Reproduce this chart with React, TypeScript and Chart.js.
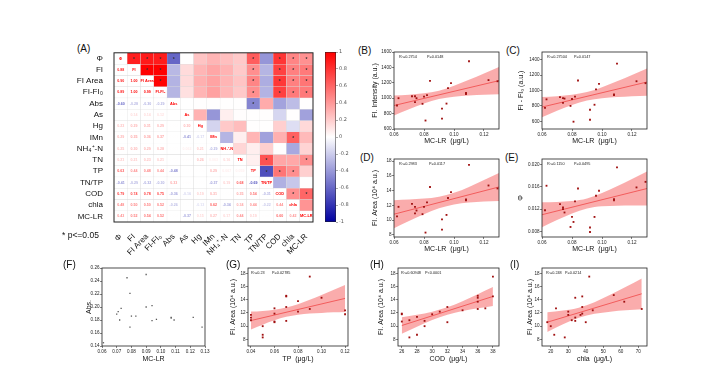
import React, { useEffect, useRef } from 'react';
import { Chart, registerables } from 'chart.js';
Chart.register(...registerables);

const FONT = "'Liberation Sans', Arial, Helvetica, sans-serif";

// ---------------- (A) correlation matrix ----------------
const variables = ['Φ', 'FI', 'FI Area', 'FI-FI₀', 'Abs', 'As', 'Hg', 'IMn', 'NH₄⁺-N', 'TN', 'TP', 'TN/TP', 'COD', 'chla', 'MC-LR'];
const corrLower: number[][] = [
  [],
  [0.88],
  [0.9, 1.0],
  [0.89, 1.0, 0.99],
  [-0.6, -0.28, -0.3, -0.29],
  [0.002, 0.14, 0.14, 0.12, 0.001],
  [0.23, 0.29, 0.31, 0.29, 0.004, 0.3],
  [0.29, 0.35, 0.36, 0.37, 0.003, -0.41, -0.17],
  [0.25, 0.3, 0.29, 0.28, 0.005, 0.062, 0.21, -0.29],
  [0.21, 0.21, 0.23, 0.21, 0.004, 0.006, 0.26, 0.063, 0.16],
  [0.63, 0.44, 0.48, 0.44, -0.48, 0.005, 0.004, 0.29, 0.067, 0.059],
  [-0.41, -0.29, -0.32, -0.3, 0.33, 0.006, 0.005, -0.37, 0.19, 0.68, -0.69],
  [0.79, 0.74, 0.78, 0.75, -0.36, -0.16, 0.19, 0.31, 0.004, 0.35, 0.54, -0.31],
  [0.48, 0.5, 0.5, 0.52, -0.26, 0.005, -0.13, 0.62, -0.34, 0.34, 0.44, -0.22, 0.44],
  [0.43, 0.52, 0.54, 0.52, 0.004, -0.37, 0.15, 0.27, 0.17, 0.44, 0.19, 0.005, 0.6, 0.42],
];
const sigLevel = 0.43;
const colorbarStops = [-1, 0, 1];
const colorbarTicks = [-1, -0.8, -0.6, -0.4, -0.2, 0, 0.2, 0.4, 0.6, 0.8, 1];

// ---------------- scatter data ----------------
const mcLR = [0.062, 0.063, 0.072, 0.074, 0.074, 0.075, 0.079, 0.08, 0.082, 0.081, 0.084, 0.092, 0.092, 0.095, 0.096, 0.098, 0.108, 0.108, 0.11, 0.123, 0.129];
const fiIntensity = [905, 1000, 1025, 1025, 950, 1000, 927, 1020, 1040, 710, 1225, 865, 735, 930, 1130, 1195, 1070, 1055, 1480, 1235, 1220];
const fiMinusFi0 = [775, 885, 915, 900, 840, 895, 800, 890, 920, 595, 1130, 750, 620, 815, 1015, 1085, 950, 940, 1350, 1120, 1095];
const fiAreaD = [10.5, 11.8, 12.2, 11.8, 10.9, 11.3, 10.8, 11.8, 12.4, 8.3, 14.5, 10.1, 8.7, 10.7, 13.0, 13.8, 12.8, 12.7, 17.5, 14.7, 14.3];
const phiE = [0.0118, 0.0162, 0.0129, 0.0123, 0.012, 0.0114, 0.0088, 0.0106, 0.0134, 0.0097, 0.0157, 0.0079, 0.0087, 0.0106, 0.0144, 0.0153, 0.0138, 0.0136, 0.0195, 0.0159, 0.0169];

const mcLR_F = [0.061, 0.07, 0.071, 0.072, 0.073, 0.077, 0.079, 0.079, 0.08, 0.083, 0.09, 0.09, 0.094, 0.094, 0.097, 0.107, 0.107, 0.109, 0.122, 0.128];
const absF = [0.145, 0.189, 0.193, 0.18, 0.198, 0.245, 0.221, 0.169, 0.186, 0.186, 0.25, 0.2, 0.179, 0.202, 0.181, 0.184, 0.183, 0.18, 0.184, 0.169];

const tpG = [0.04, 0.04, 0.04, 0.05, 0.05, 0.05, 0.06, 0.06, 0.06, 0.06, 0.07, 0.07, 0.07, 0.07, 0.08, 0.08, 0.09, 0.09, 0.1, 0.12, 0.12];
const fiAreaG = [11.7, 11.3, 10.9, 10.0, 8.7, 8.3, 12.7, 11.9, 10.7, 10.6, 14.6, 14.5, 12.9, 10.8, 13.8, 12.2, 17.5, 12.6, 14.3, 12.4, 11.8];
const codH = [26, 26, 26, 27, 27, 28, 28, 29, 29, 30, 31, 32, 32, 34, 36, 36, 36, 36, 37, 38, 38];
const fiAreaH = [11.9, 11.8, 10.7, 10.9, 8.3, 11.4, 8.7, 10.8, 10.0, 11.8, 12.2, 12.9, 10.6, 12.4, 14.6, 14.3, 13.7, 12.6, 12.7, 17.5, 14.5];
const chlaI = [18, 20, 22, 23, 28, 30, 30, 32, 34, 34, 34, 37, 38, 38, 38, 40, 42, 44, 56, 62, 72];
const fiAreaI = [10.6, 10.0, 8.7, 12.7, 8.3, 12.2, 11.7, 10.9, 14.3, 11.3, 10.8, 11.7, 12.9, 14.5, 11.9, 10.6, 17.5, 12.4, 14.7, 13.7, 12.6];

// fitted lines and 95% confidence bands
const bandX_MC = [0.06, 0.07, 0.08, 0.09, 0.1, 0.11, 0.12, 0.13];
const fitX_MC = [0.06, 0.13];
const fitB = [905, 1228];
const bandUpB = [1036, 1046, 1063, 1098, 1161, 1238, 1320, 1405];
const bandLoB = [774, 856, 931, 988, 1019, 1034, 1044, 1051];
const fitC = [785, 1110];
const bandUpC = [916, 926, 944, 979, 1042, 1119, 1202, 1287];
const bandLoC = [654, 736, 812, 869, 900, 915, 926, 933];
const fitD = [10.8, 14.5];
const bandUpD = [12.7, 12.79, 12.92, 13.18, 13.7, 14.5, 15.43, 16.4];
const bandLoD = [8.9, 9.88, 10.8, 11.6, 12.12, 12.38, 12.52, 12.6];
const fitE = [0.011, 0.0157];
const bandUpE = [0.01325, 0.01329, 0.01344, 0.01391, 0.01488, 0.0161, 0.01741, 0.01875];
const bandLoE = [0.00875, 0.01005, 0.01124, 0.01211, 0.0125, 0.01262, 0.01265, 0.01265];
const bandX_G = [0.04, 0.05, 0.06, 0.07, 0.08, 0.09, 0.1, 0.11, 0.12];
const fitX_G = [0.04, 0.12];
const fitG = [10.85, 14.2];
const bandUpG = [12.2, 12.31, 12.49, 12.81, 13.33, 13.99, 14.71, 15.47, 16.25];
const bandLoG = [9.5, 10.23, 10.89, 11.41, 11.73, 11.91, 12.01, 12.09, 12.15];
const bandX_H = [26, 28, 30, 32, 34, 36, 38];
const fitX_H = [26, 38];
const fitH = [10.1, 14.5];
const bandUpH = [11.35, 11.73, 12.2, 12.86, 13.78, 14.84, 15.93];
const bandLoH = [8.85, 9.93, 10.94, 11.74, 12.28, 12.7, 13.07];
const bandX_I = [18, 27, 36, 45, 54, 63, 72];
const fitX_I = [18, 72];
const fitI = [10.6, 14.9];
const bandUpI = [12.1, 12.36, 12.79, 13.63, 14.75, 15.97, 17.23];
const bandLoI = [9.1, 10.28, 11.27, 11.87, 12.19, 12.39, 12.57];

// axis ticks
const mcTicks = [0.06, 0.08, 0.1, 0.12];
const fiTicks = [600, 800, 1000, 1200, 1400, 1600];
const fi0Ticks = [600, 800, 1000, 1200, 1400];
const areaTicks = [8, 10, 12, 14, 16, 18];
const phiTicks = [0.008, 0.012, 0.016, 0.02];
const mcTicksF = [0.06, 0.07, 0.08, 0.09, 0.1, 0.11, 0.12, 0.13];
const absTicks = [0.14, 0.16, 0.18, 0.2, 0.22, 0.24, 0.26];
const tpTicks = [0.04, 0.06, 0.08, 0.1, 0.12];
const codTicks = [26, 28, 30, 32, 34, 36, 38];
const chlaTicks = [20, 30, 40, 50, 60, 70];

// ---------------- helpers ----------------
function corr(i: number, j: number) {
  if (i === j) return 1;
  return i > j ? corrLower[i][j] : corrLower[j][i];
}
function cmap(v: number) {
  if (v >= 0) {
    const g = Math.round(255 * (1 - v));
    return `rgb(255,${g},${g})`;
  }
  const t = -v;
  const c = Math.round(255 * (1 - t));
  const b = Math.round(255 - 95 * t);
  return `rgb(${c},${c},${b})`;
}
function fmtCorr(v: number) {
  const a = Math.abs(v);
  return a < 0.1 && a > 0 ? v.toFixed(3) : v.toFixed(2);
}
const pts = (xs: number[], ys: number[]) => xs.map((x, i) => ({ x, y: ys[i] }));

function ChartCanvas({ left, top, width, height, make }: any) {
  const ref = useRef<HTMLCanvasElement>(null);
  useEffect(() => {
    const chart = new Chart(ref.current as HTMLCanvasElement, make());
    return () => chart.destroy();
  }, []);
  return (
    <canvas
      ref={ref}
      width={width}
      height={height}
      style={{ position: 'absolute', left, top, width, height }}
    />
  );
}

// ---------------- heatmap ----------------
const HM = { l: 114, t: 52, r: 313, b: 222, yw: 59, xh: 40, pt: 7, pr: 6 };

function heatmapConfig(): any {
  const n = variables.length;
  const datasets = variables.map((name, i) => ({
    label: name,
    data: variables.map(() => 1),
    backgroundColor: variables.map((_, j) => (j > i ? cmap(corr(i, j)) : '#ffffff')),
    borderColor: 'rgba(215,215,215,0.8)',
    borderWidth: 0.4,
    borderSkipped: false,
    barPercentage: 1,
    categoryPercentage: 1,
  }));
  const textPlugin = {
    id: 'cellText',
    afterDatasetsDraw(chart: any) {
      const ctx = chart.ctx;
      ctx.save();
      ctx.textAlign = 'center';
      ctx.textBaseline = 'middle';
      for (let i = 0; i < n; i++) {
        const meta = chart.getDatasetMeta(i);
        for (let j = 0; j < n; j++) {
          const el = meta.data[j];
          const cx = el.x;
          const cy = (el.y + el.base) / 2;
          if (j < i) {
            const v = corr(i, j);
            ctx.fillStyle = cmap(v);
            ctx.font = `bold 3.6px ${FONT}`;
            ctx.fillText(fmtCorr(v), cx, cy);
          } else if (j === i) {
            ctx.fillStyle = '#ff0000';
            ctx.font = `bold 3.9px ${FONT}`;
            ctx.fillText(variables[i], cx, cy);
          } else if (Math.abs(corr(i, j)) >= sigLevel) {
            ctx.fillStyle = '#333333';
            ctx.font = `bold 5px ${FONT}`;
            ctx.fillText('*', cx, cy + 1);
          }
        }
      }
      const a = chart.chartArea;
      ctx.strokeStyle = '#222';
      ctx.lineWidth = 1;
      ctx.strokeRect(a.left, a.top, a.right - a.left, a.bottom - a.top);
      ctx.restore();
    },
  };
  return {
    type: 'bar',
    data: { labels: variables, datasets },
    options: {
      responsive: false,
      animation: false,
      devicePixelRatio: 1,
      layout: { padding: { top: HM.pt, right: HM.pr, left: 0, bottom: 0 } },
      plugins: { legend: { display: false }, tooltip: { enabled: false } },
      scales: {
        x: {
          stacked: true,
          grid: { display: false },
          border: { display: false },
          afterFit: (ax: any) => { ax.height = HM.xh; },
          ticks: { font: { size: 8, family: FONT }, color: '#111', minRotation: 45, maxRotation: 45, autoSkip: false, padding: 2 },
        },
        y: {
          stacked: true,
          min: 0,
          max: n,
          reverse: true,
          grid: { display: false },
          border: { display: false },
          afterFit: (ax: any) => { ax.width = HM.yw; },
          afterBuildTicks: (ax: any) => { ax.ticks = variables.map((_, i) => ({ value: i + 0.5 })); },
          ticks: {
            font: { size: 8, family: FONT },
            color: '#111',
            padding: 3,
            autoSkip: false,
            callback: (_v: any, idx: number) => variables[idx],
          },
        },
      },
    },
    plugins: [textPlugin],
  };
}

const CB = { l: 325, t: 52, r: 336, b: 222, yw: 22, pt: 7, pb: 8 };
function colorbarConfig(): any {
  return {
    type: 'bar',
    data: {
      labels: [''],
      datasets: [{
        data: [[-1, 1]],
        backgroundColor: (c: any) => {
          const chart = c.chart;
          const area = chart.chartArea;
          if (!area) return '#ffffff';
          const g = chart.ctx.createLinearGradient(0, area.bottom, 0, area.top);
          colorbarStops.forEach((v) => g.addColorStop((v + 1) / 2, cmap(v)));
          return g;
        },
        borderColor: '#222',
        borderWidth: 0.8,
        borderSkipped: false,
        barPercentage: 1,
        categoryPercentage: 1,
      }],
    },
    options: {
      responsive: false,
      animation: false,
      devicePixelRatio: 1,
      layout: { padding: { top: CB.pt, bottom: CB.pb, left: 0, right: 0 } },
      plugins: { legend: { display: false }, tooltip: { enabled: false } },
      scales: {
        x: { display: false },
        y: {
          position: 'right',
          min: -1,
          max: 1,
          afterFit: (ax: any) => { ax.width = CB.yw; },
          afterBuildTicks: (ax: any) => { ax.ticks = colorbarTicks.map((v) => ({ value: v })); },
          grid: { drawOnChartArea: false, tickLength: 2, color: '#555', lineWidth: 0.5 },
          border: { display: false },
          ticks: {
            font: { size: 5, family: "'DejaVu Sans', sans-serif" },
            color: '#555',
            padding: 1,
            callback: (v: any) => {
              const r = Math.round(Number(v) * 10) / 10;
              return r === 0 ? '0' : Number.isInteger(r) ? String(r) : r.toFixed(1);
            },
          },
        },
      },
    },
  };
}

// ---------------- scatter panels ----------------
type Geom = { l: number; t: number; r: number; b: number; yw: number; xh: number };
const PT = 6;
const PR = 6;

function scatterConfig(s: any): any {
  const g: Geom = s.geom;
  const datasets: any[] = [{
    type: 'scatter',
    data: pts(s.xs, s.ys),
    pointStyle: 'rect',
    pointRadius: s.pr ?? 1.3,
    backgroundColor: s.pc ?? '#a01010',
    borderWidth: 0,
  }];
  if (s.fitX) {
    datasets.push({ type: 'line', data: pts(s.fitX, s.fitY), borderColor: '#f04848', borderWidth: 0.8, pointRadius: 0, fill: false });
    datasets.push({ type: 'line', data: pts(s.bandX, s.bandUp), borderColor: 'rgba(0,0,0,0)', borderWidth: 0, pointRadius: 0, fill: false, tension: 0.4, cubicInterpolationMode: 'monotone' });
    datasets.push({ type: 'line', data: pts(s.bandX, s.bandLo), borderColor: 'rgba(0,0,0,0)', borderWidth: 0, pointRadius: 0, fill: '-1', backgroundColor: 'rgba(245,70,70,0.45)', tension: 0.4, cubicInterpolationMode: 'monotone' });
  }
  const axis = (a: any, isX: boolean) => ({
    type: 'linear',
    min: a.min,
    max: a.max,
    afterBuildTicks: (ax: any) => { ax.ticks = a.ticks.map((v: number) => ({ value: v })); },
    afterFit: (ax: any) => { if (isX) ax.height = g.xh; else ax.width = g.yw; },
    grid: { drawOnChartArea: false, tickLength: 2, color: '#333', lineWidth: 0.6 },
    border: { display: false },
    ticks: {
      font: { size: 4.6, family: FONT },
      color: '#222',
      padding: 0.5,
      maxRotation: 0,
      autoSkip: false,
      callback: (v: any) => Number(v).toFixed(a.dec),
    },
    title: { display: true, text: a.title, font: { size: 7, family: FONT }, color: '#111', padding: 0 },
  });
  const plugin = {
    id: 'frame',
    afterDatasetsDraw(chart: any) {
      const ctx = chart.ctx;
      const a = chart.chartArea;
      ctx.save();
      ctx.strokeStyle = '#222';
      ctx.lineWidth = 0.8;
      ctx.strokeRect(a.left, a.top, a.right - a.left, a.bottom - a.top);
      if (s.stats) {
        ctx.fillStyle = '#222';
        ctx.font = `3.8px ${FONT}`;
        ctx.textBaseline = 'middle';
        ctx.fillText(s.stats[0], a.left + s.stats[3], a.top + 5);
        ctx.fillText(s.stats[1], a.left + s.stats[2], a.top + 5);
      }
      ctx.restore();
    },
  };
  return {
    type: 'scatter',
    data: { datasets },
    options: {
      responsive: false,
      animation: false,
      devicePixelRatio: 1,
      layout: { padding: { top: PT, right: PR, left: 0, bottom: 0 } },
      plugins: { legend: { display: false }, tooltip: { enabled: false } },
      scales: { x: axis(s.x, true), y: axis(s.y, false) },
    },
    plugins: [plugin],
  };
}

const panels: any[] = [
  {
    id: 'B', label: '(B)', lx: 358, ly: 45,
    geom: { l: 394, t: 52, r: 499, b: 129, yw: 23, xh: 16 },
    x: { min: 0.06, max: 0.13, ticks: mcTicks, dec: 2, title: 'MC-LR  (μg/L)' },
    y: { min: 600, max: 1600, ticks: fiTicks, dec: 0, title: 'FI. Intensity (a.u.)' },
    xs: mcLR, ys: fiIntensity, fitX: fitX_MC, fitY: fitB, bandX: bandX_MC, bandUp: bandUpB, bandLo: bandLoB,
    stats: ['R²=0.2754', 'P=0.0148', 33, 5],
  },
  {
    id: 'C', label: '(C)', lx: 506, ly: 45,
    geom: { l: 542, t: 52, r: 647, b: 129, yw: 25, xh: 16 },
    x: { min: 0.06, max: 0.13, ticks: mcTicks, dec: 2, title: 'MC-LR  (μg/L)' },
    y: { min: 500, max: 1500, ticks: fi0Ticks, dec: 0, title: 'FI - FI₀ (a.u.)' },
    xs: mcLR, ys: fiMinusFi0, fitX: fitX_MC, fitY: fitC, bandX: bandX_MC, bandUp: bandUpC, bandLo: bandLoC,
    stats: ['R²=0.27504', 'P=0.0147', 32, 5],
  },
  {
    id: 'D', label: '(D)', lx: 360, ly: 152,
    geom: { l: 394, t: 159, r: 499, b: 237, yw: 23, xh: 16 },
    x: { min: 0.06, max: 0.13, ticks: mcTicks, dec: 2, title: 'MC-LR  (μg/L)' },
    y: { min: 7.7, max: 18.3, ticks: areaTicks, dec: 0, title: 'FI. Area (10⁴ a.u.)' },
    xs: mcLR, ys: fiAreaD, fitX: fitX_MC, fitY: fitD, bandX: bandX_MC, bandUp: bandUpD, bandLo: bandLoD,
    stats: ['R²=0.2983', 'P=0.0117', 35, 5],
  },
  {
    id: 'E', label: '(E)', lx: 505, ly: 152,
    geom: { l: 542, t: 159, r: 647, b: 237, yw: 25, xh: 16 },
    x: { min: 0.06, max: 0.13, ticks: mcTicks, dec: 2, title: 'MC-LR  (μg/L)' },
    y: { min: 0.007, max: 0.021, ticks: phiTicks, dec: 3, title: 'Φ' },
    xs: mcLR, ys: phiE, fitX: fitX_MC, fitY: fitE, bandX: bandX_MC, bandUp: bandUpE, bandLo: bandLoE,
    stats: ['R²=0.1150', 'P=0.0495', 32, 5],
  },
  {
    id: 'F', label: '(F)', lx: 63, ly: 259,
    geom: { l: 102, t: 268, r: 205, b: 346, yw: 17, xh: 17 },
    x: { min: 0.06, max: 0.13, ticks: mcTicksF, dec: 2, title: 'MC-LR' },
    y: { min: 0.14, max: 0.26, ticks: absTicks, dec: 2, title: 'Abs.' },
    xs: mcLR_F, ys: absF, pr: 0.9, pc: '#555555',
  },
  {
    id: 'G', label: '(G)', lx: 226, ly: 259,
    geom: { l: 248, t: 268, r: 348, b: 346, yw: 19, xh: 17 },
    x: { min: 0.0375, max: 0.1225, ticks: tpTicks, dec: 2, title: 'TP  (μg/L)' },
    y: { min: 7, max: 18.8, ticks: areaTicks, dec: 0, title: 'FI. Area (10⁴ a.u.)' },
    xs: tpG, ys: fiAreaG, fitX: fitX_G, fitY: fitG, bandX: bandX_G, bandUp: bandUpG, bandLo: bandLoG,
    stats: ['R²=0.23', 'P=0.02785', 24, 3],
  },
  {
    id: 'H', label: '(H)', lx: 370, ly: 259,
    geom: { l: 398, t: 268, r: 499, b: 346, yw: 21, xh: 17 },
    x: { min: 25.5, max: 38.8, ticks: codTicks, dec: 0, title: 'COD  (μg/L)' },
    y: { min: 7, max: 18.8, ticks: areaTicks, dec: 0, title: 'FI. Area (10⁴ a.u.)' },
    xs: codH, ys: fiAreaH, fitX: fitX_H, fitY: fitH, bandX: bandX_H, bandUp: bandUpH, bandLo: bandLoH,
    stats: ['R²=0.60948', 'P<0.0001', 27, 3],
  },
  {
    id: 'I', label: '(I)', lx: 510, ly: 259,
    geom: { l: 542, t: 268, r: 647, b: 346, yw: 16, xh: 17 },
    x: { min: 15, max: 75, ticks: chlaTicks, dec: 0, title: 'chla  (μg/L)' },
    y: { min: 7, max: 18.8, ticks: areaTicks, dec: 0, title: 'FI. Area (10⁴ a.u.)' },
    xs: chlaI, ys: fiAreaI, fitX: fitX_I, fitY: fitI, bandX: bandX_I, bandUp: bandUpI, bandLo: bandLoI,
    stats: ['R²=0.248', 'P=0.0214', 23, 4],
  },
];

const labelStyle = (left: number, top: number): React.CSSProperties => ({
  position: 'absolute', left, top, fontFamily: FONT, fontSize: 10, lineHeight: '12px', color: '#111', whiteSpace: 'nowrap',
});

export default function App() {
  return (
    <div style={{ position: 'fixed', left: 0, top: 0, width: 720, height: 375, background: '#ffffff', overflow: 'hidden' }}>
      <div style={labelStyle(77, 43)}>(A)</div>
      <ChartCanvas
        left={HM.l - HM.yw}
        top={HM.t - HM.pt}
        width={HM.yw + (HM.r - HM.l) + HM.pr}
        height={HM.pt + (HM.b - HM.t) + HM.xh}
        make={heatmapConfig}
      />
      <div style={{ ...labelStyle(62, 229), fontSize: 8.5 }}>* p&lt;=0.05</div>
      <ChartCanvas
        left={CB.l}
        top={CB.t - CB.pt}
        width={(CB.r - CB.l) + CB.yw}
        height={CB.pt + (CB.b - CB.t) + CB.pb}
        make={colorbarConfig}
      />
      {panels.map((p) => (
        <React.Fragment key={p.id}>
          <div style={labelStyle(p.lx, p.ly)}>{p.label}</div>
          <ChartCanvas
            left={p.geom.l - p.geom.yw}
            top={p.geom.t - PT}
            width={p.geom.yw + (p.geom.r - p.geom.l) + PR}
            height={PT + (p.geom.b - p.geom.t) + p.geom.xh}
            make={() => scatterConfig(p)}
          />
        </React.Fragment>
      ))}
    </div>
  );
}
